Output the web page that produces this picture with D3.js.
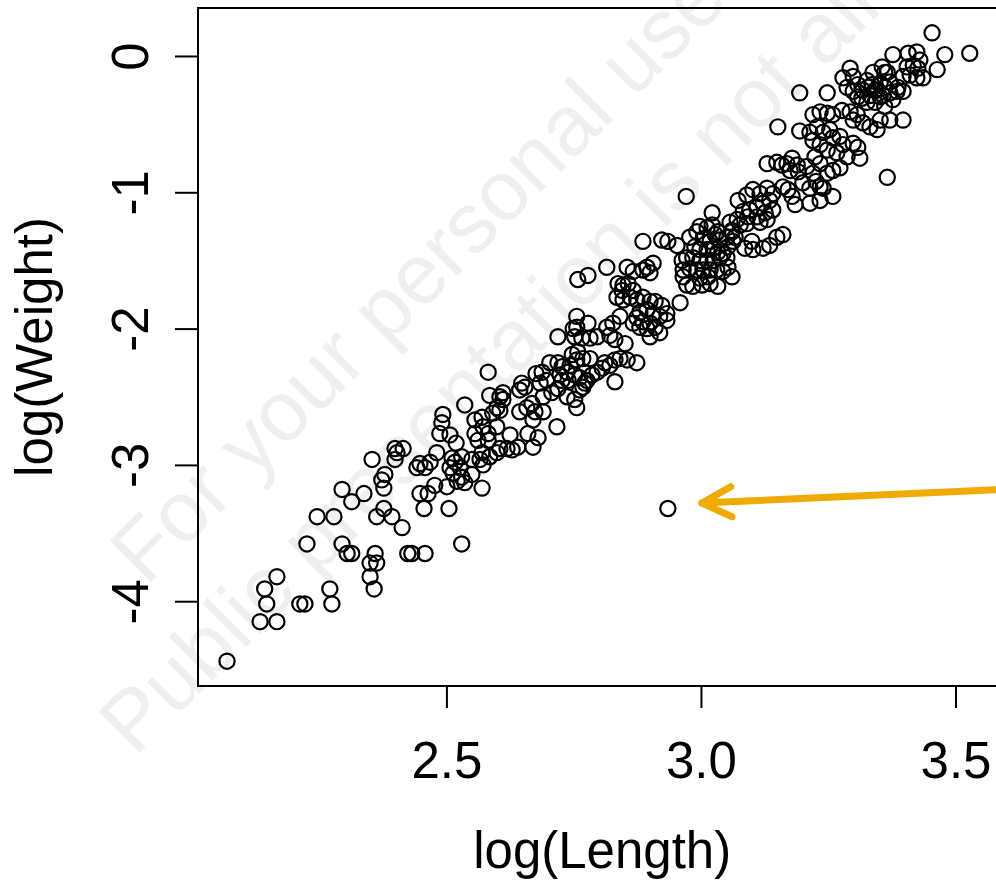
<!DOCTYPE html>
<html><head><meta charset="utf-8">
<script src="https://cdn.jsdelivr.net/npm/d3@7"></script>
<style>html,body{margin:0;padding:0;background:#fff;overflow:hidden}</style>
</head><body>
<svg id="chart" width="996" height="885"></svg>
<script>
// ---- data ----
const logLength = [
2.069,2.134,2.167,2.147,2.143,2.167,2.212,2.222,2.271,2.275,2.226,2.246,2.279,2.295,2.314,2.338,2.295,2.305,2.314,2.354,
2.360,2.350,2.363,2.350,2.358,2.363,2.377,2.393,2.413,2.373,2.377,2.379,2.399,2.403,2.399,2.424,2.432,2.458,2.530,2.456,
2.505,2.415,2.448,2.442,2.458,2.468,2.481,2.477,2.464,2.448,2.501,2.511,2.517,2.530,2.507,2.527,2.513,2.530,2.536,2.521,
2.536,2.493,2.491,2.487,2.507,2.519,2.582,2.585,2.605,2.611,2.599,2.591,2.556,2.570,2.572,2.556,2.562,2.599,2.582,2.582,
2.625,2.640,2.619,2.629,2.605,2.599,2.648,2.644,2.654,2.676,2.644,2.658,2.668,2.674,2.670,2.660,2.680,2.670,2.570,2.566,
2.572,2.585,2.570,2.550,2.550,2.611,2.605,2.758,2.778,2.756,2.756,2.778,2.752,2.766,2.782,2.796,2.719,2.703,2.719,2.727,
2.747,2.758,2.756,2.768,2.782,2.743,2.737,2.723,2.739,2.727,2.752,2.762,2.776,2.768,2.786,2.796,2.688,2.684,2.690,2.707,
2.719,2.737,2.752,2.756,2.772,2.762,2.690,2.749,2.717,2.697,2.971,2.886,2.923,2.935,2.953,2.978,2.992,2.988,2.998,2.984,
2.972,2.963,2.965,2.978,2.992,2.965,2.972,2.984,2.959,2.815,2.855,2.867,2.886,2.900,2.906,2.894,2.837,2.847,2.857,2.867,
2.845,2.835,2.847,2.874,2.861,2.886,2.900,2.910,2.923,2.933,2.919,2.906,2.894,2.880,2.874,2.886,2.900,2.910,2.894,2.880,
2.867,2.841,2.827,2.815,2.821,2.831,2.851,2.900,2.919,2.933,2.811,2.831,2.841,2.855,2.874,2.821,2.831,2.806,3.022,2.998,
3.012,3.022,3.004,3.018,3.028,3.033,3.037,3.051,3.061,3.063,3.067,3.073,3.090,3.102,3.116,3.130,3.141,3.135,3.122,3.110,
3.096,3.083,3.092,3.110,3.126,3.130,3.141,3.116,3.071,3.057,3.061,3.053,3.077,3.090,3.100,3.086,3.102,3.122,3.135,3.149,
3.012,3.024,3.033,3.043,3.051,3.037,3.024,3.012,2.998,3.004,3.018,3.031,3.043,3.061,3.053,3.002,3.018,3.033,2.998,3.014,
3.151,3.159,3.169,3.179,3.189,3.175,3.191,3.185,3.161,3.171,3.179,3.161,3.149,3.130,3.194,3.194,3.248,3.377,3.356,3.366,
3.338,3.326,3.352,3.336,3.346,3.332,3.318,3.308,3.299,3.293,3.279,3.287,3.299,3.308,3.326,3.342,3.358,3.371,3.385,3.377,
3.361,3.371,3.352,3.346,3.332,3.318,3.299,3.307,3.293,3.277,3.259,3.248,3.234,3.220,3.228,3.240,3.253,3.259,3.273,3.279,
3.299,3.308,3.312,3.287,3.267,3.248,3.234,3.220,3.214,3.224,3.234,3.259,3.248,3.273,3.220,3.208,3.200,3.214,3.234,3.259,
3.214,3.234,3.366,3.226,3.240,3.342,3.328,3.352,3.361,3.316,3.387,3.371,3.361,3.454,3.479,3.528,3.464,3.407,3.424,3.430,
3.417,3.405,3.411,3.424,3.436,3.397,3.397,3.397,3.426,2.935
];
const logWeight = [
-4.44,-4.15,-4.15,-4.02,-3.91,-3.82,-4.02,-4.02,-3.91,-4.02,-3.58,-3.38,-3.38,-3.18,-3.27,-3.21,-3.58,-3.65,-3.65,-2.96,
-3.65,-3.72,-3.72,-3.82,-3.91,-3.38,-3.32,-3.38,-3.46,-3.11,-3.17,-3.07,-2.88,-2.91,-2.96,-3.65,-3.65,-3.65,-3.58,-3.32,
-3.32,-2.88,-2.99,-3.02,-3.02,-2.98,-2.91,-3.15,-3.21,-3.21,-3.16,-2.95,-2.98,-2.94,-3.02,-3.02,-3.06,-3.09,-3.13,-3.12,
-2.56,-2.63,-2.69,-2.77,-2.78,-2.84,-2.32,-2.49,-2.50,-2.52,-2.58,-2.62,-2.67,-2.65,-2.72,-2.77,-2.82,-2.72,-2.77,-2.82,
-2.78,-2.87,-2.88,-2.89,-2.88,-2.91,-2.40,-2.45,-2.43,-2.33,-2.61,-2.58,-2.55,-2.61,-2.67,-2.77,-2.80,-2.87,-2.91,-2.96,
-3.00,-2.94,-3.17,-2.96,-3.07,-2.47,-2.60,-1.64,-1.61,-1.91,-1.99,-1.96,-2.06,-2.07,-2.07,-2.06,-2.06,-2.25,-2.25,-2.28,
-2.19,-2.17,-2.23,-2.22,-2.22,-2.27,-2.32,-2.34,-2.38,-2.38,-2.34,-2.36,-2.38,-2.43,-2.34,-2.32,-2.32,-2.40,-2.50,-2.47,
-2.44,-2.50,-2.52,-2.58,-2.40,-2.45,-2.61,-2.00,-2.72,-2.38,-1.03,-1.36,-1.35,-1.36,-1.39,-1.33,-1.29,-1.40,-1.42,-1.48,
-1.48,-1.50,-1.57,-1.56,-1.57,-1.62,-1.68,-1.69,-1.81,-1.55,-1.55,-1.58,-1.57,-1.59,-1.52,-1.55,-1.67,-1.68,-1.67,-1.72,
-1.72,-1.77,-1.79,-1.79,-1.77,-1.77,-1.80,-1.80,-1.83,-1.89,-1.91,-1.89,-1.86,-1.88,-1.92,-1.95,-1.96,-1.99,-2.00,-1.99,
-1.96,-1.91,-1.96,-1.99,-2.05,-2.08,-2.11,-2.06,-2.03,-1.94,-2.25,-2.23,-2.22,-2.23,-2.25,-2.27,-2.39,-2.29,-1.15,-1.25,
-1.26,-1.24,-1.34,-1.36,-1.31,-1.29,-1.35,-1.33,-1.29,-1.36,-1.33,-1.06,-1.02,-0.98,-1.01,-0.97,-1.01,-1.06,-1.08,-1.11,
-1.13,-1.14,-1.18,-1.18,-1.15,-1.20,-1.13,-1.22,-1.20,-1.22,-1.28,-1.40,-1.24,-1.23,-1.36,-1.41,-1.42,-1.41,-1.39,-1.33,
-1.42,-1.41,-1.44,-1.45,-1.48,-1.48,-1.50,-1.50,-1.50,-1.57,-1.57,-1.57,-1.58,-1.62,-1.55,-1.68,-1.67,-1.69,-1.63,-1.62,
-0.52,-0.80,-0.79,-0.75,-0.80,-0.84,-0.85,-1.09,-0.96,-0.98,-1.03,-1.31,-0.78,-0.79,-0.55,-0.27,-0.27,0.01,-0.08,-0.12,
-0.12,-0.18,-0.20,-0.21,-0.25,-0.29,-0.25,-0.21,-0.15,-0.09,-0.16,-0.23,-0.26,-0.30,-0.34,-0.34,-0.29,-0.27,-0.26,-0.32,
-0.37,-0.47,-0.47,-0.54,-0.52,-0.49,-0.47,-0.43,-0.41,-0.40,-0.43,-0.42,-0.41,-0.43,-0.52,-0.56,-0.54,-0.60,-0.59,-0.65,
-0.64,-0.67,-0.75,-0.74,-0.71,-0.69,-0.65,-0.62,-0.56,-0.74,-0.79,-0.84,-0.86,-0.82,-0.86,-0.81,-0.93,-0.97,-0.96,-1.03,
-1.08,-1.06,-0.89,-0.92,-0.97,-0.25,-0.23,-0.30,-0.23,-0.31,-0.23,-0.19,-0.12,0.17,0.01,0.02,-0.10,0.02,0.03,-0.03,
-0.07,-0.08,-0.14,-0.16,-0.16,-0.15,-0.26,-0.47,-0.09,-3.32
];
const xTicks = [2.5, 3.0, 3.5];
const xTickLabels = ["2.5", "3.0", "3.5"];
const yTicks = [0, -1, -2, -3, -4];
const yTickLabels = ["0", "-1", "-2", "-3", "-4"];
const xTitle = "log(Length)";
const yTitle = "log(Weight)";
const watermarkLines = ["For your personal use only", "Public presentation is not allowed"];
const arrowFrom = [3.62, -3.175];
const arrowTo = [3.002, -3.28];

// ---- layout ----
const W = 996, H = 885;
const plot = {left: 198, top: 8, right: 1006.4, bottom: 686};
const FONT = "'Liberation Sans', Arial, Helvetica, sans-serif";
const svg = d3.select("#chart");
svg.append("rect").attr("width", W).attr("height", H).attr("fill", "#fff");

const x = d3.scaleLinear().domain([2.012, 3.6]).range([plot.left, plot.right]);
const y = d3.scaleLinear().domain([-4.622, 0.352]).range([plot.bottom, plot.top]);

// watermark
const wm = svg.append("g").attr("fill", "#efefef").style("font-family", FONT).style("font-size", "85px");
wm.append("text").attr("transform", "translate(146,587) rotate(-45)").text(watermarkLines[0]);
wm.append("text").attr("transform", "translate(135,758) rotate(-45)").text(watermarkLines[1]);

// axes
const xAxis = svg.append("g").attr("transform", `translate(0,${plot.bottom})`)
  .call(d3.axisBottom(x).tickValues(xTicks).tickSize(22).tickPadding(34).tickFormat((d, i) => xTickLabels[i]));
xAxis.select(".domain").remove();
xAxis.selectAll("line").attr("stroke", "#000").attr("stroke-width", 2);
xAxis.selectAll("text").attr("fill", "#000").style("font-family", FONT).style("font-size", "51px");

const yAxis = svg.append("g").attr("transform", `translate(${plot.left},0)`)
  .call(d3.axisLeft(y).tickValues(yTicks).tickSize(23).tickFormat((d, i) => yTickLabels[i]));
yAxis.select(".domain").remove();
yAxis.selectAll("line").attr("stroke", "#000").attr("stroke-width", 2);
yAxis.selectAll("text").attr("fill", "#000").style("font-family", FONT).style("font-size", "51px")
  .attr("x", null).attr("dy", null).attr("text-anchor", "middle")
  .attr("transform", "translate(-50,0) rotate(-90)");

// box
svg.append("rect").attr("x", plot.left).attr("y", plot.top)
  .attr("width", plot.right - plot.left + 20).attr("height", plot.bottom - plot.top)
  .attr("fill", "none").attr("stroke", "#000").attr("stroke-width", 2);

// titles
svg.append("text").attr("x", (plot.left + plot.right) / 2).attr("y", 868)
  .attr("text-anchor", "middle").style("font-family", FONT).style("font-size", "51px").text(xTitle);
svg.append("text").attr("transform", `translate(52,${(plot.top + plot.bottom) / 2}) rotate(-90)`)
  .attr("text-anchor", "middle").style("font-family", FONT).style("font-size", "51px").text(yTitle);

// points
const pts = logLength.map((v, i) => ({lx: v, lw: logWeight[i]}));
svg.append("g").selectAll("circle").data(pts).join("circle")
  .attr("cx", d => x(d.lx)).attr("cy", d => y(d.lw)).attr("r", 7.6)
  .attr("fill", "none").attr("stroke", "#000").attr("stroke-width", 2.2);

// arrow annotation
const tip = [x(arrowTo[0]), y(arrowTo[1])];
const tail = [x(arrowFrom[0]), y(arrowFrom[1])];
const ang = Math.atan2(tail[1] - tip[1], tail[0] - tip[0]);
const hl = 33, ha = 27 * Math.PI / 180;
const w1 = [tip[0] + hl * Math.cos(ang - ha), tip[1] + hl * Math.sin(ang - ha)];
const w2 = [tip[0] + hl * Math.cos(ang + ha), tip[1] + hl * Math.sin(ang + ha)];
const line = d3.line();
const ag = svg.append("g").attr("fill", "none").attr("stroke", "#f0aa00").attr("stroke-width", 7)
  .attr("stroke-linecap", "round").attr("stroke-linejoin", "round");
ag.append("path").attr("d", line([tail, tip]));
ag.append("path").attr("d", line([w1, tip, w2]));
</script>
</body></html>
